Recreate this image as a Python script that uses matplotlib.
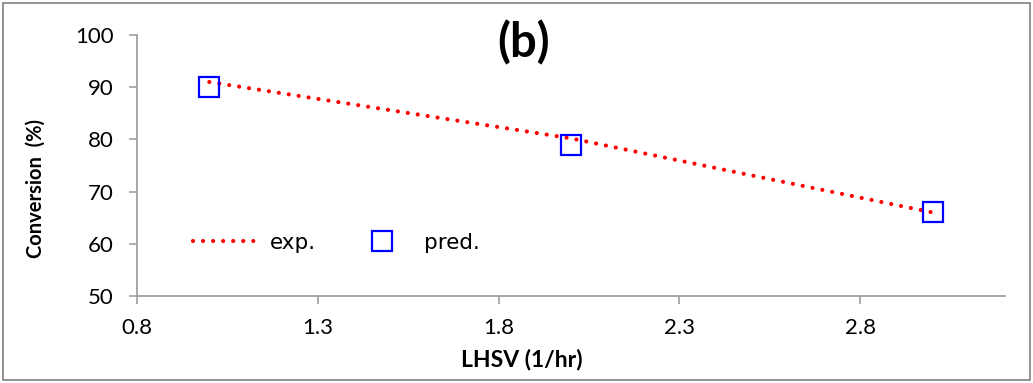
import matplotlib
matplotlib.use("Agg")
import matplotlib.pyplot as plt
from matplotlib.patches import Rectangle

lhsv = [1.0, 2.0, 3.0]
exp_conv = [91.0, 80.2, 66.0]
pred_conv = [90.0, 79.0, 66.0]
xticks = [0.8, 1.3, 1.8, 2.3, 2.8]
yticks = [50, 60, 70, 80, 90, 100]

plt.rcParams['font.family'] = ['Lato', 'DejaVu Sans']

fig = plt.figure(figsize=(10.33, 3.83), dpi=100)
ax = fig.add_axes([137/1033, 1-296/383, (1005-137)/1033, (296-35)/383])

ax.plot(lhsv, exp_conv, color='#ff0000', lw=3.0, linestyle=(0, (0.01, 2.4)),
        dash_capstyle='round', solid_capstyle='round', label='exp.')
ax.plot(lhsv, pred_conv, linestyle='none', marker='s', markersize=13.8,
        markerfacecolor='none', markeredgecolor='#0000ff', markeredgewidth=1.6,
        label='pred.')

ax.set_xlim(0.8, 3.2)
ax.set_ylim(50, 100)
ax.set_xticks(xticks)
ax.set_xticklabels([f"{t:.1f}" for t in xticks])
ax.set_yticks(yticks)
ax.set_yticklabels([str(t) for t in yticks])

for s in ['top', 'right']:
    ax.spines[s].set_visible(False)
for s in ['left', 'bottom']:
    ax.spines[s].set_color('#a0a0a0')
    ax.spines[s].set_linewidth(1.3)
ax.tick_params(axis='both', direction='out', length=6, width=1.2, color='#a0a0a0',
               labelsize=16, labelcolor='black')
ax.tick_params(axis='x', pad=10)
ax.tick_params(axis='y', pad=11)

ax.set_xlabel('LHSV (1/hr)', fontsize=16.5, fontweight='bold')
ax.xaxis.set_label_coords((521.5-137)/868, (296-360)/261)
ax.xaxis.label.set_va('center')
ax.set_ylabel('Conversion  (%)', fontsize=14.5, fontweight='bold')
ax.yaxis.set_label_coords((36-137)/868, (296-188)/261)
ax.yaxis.label.set_va('center')

ax.text((524-137)/868, (296-43)/261, '(b)', transform=ax.transAxes, ha='center', va='center',
        fontsize=34, fontweight='bold')

leg = ax.legend(loc='center left', bbox_to_anchor=((193-137)/868, (296-243)/261),
                ncol=2, frameon=False, prop={'family': 'DejaVu Sans', 'size': 15.5},
                handlelength=3.2, handletextpad=0.37, columnspacing=1.45,
                borderpad=0, borderaxespad=0)

fig.patches.append(Rectangle((3/1033, 3/383), 1027/1033, 377/383, transform=fig.transFigure,
                             fill=False, edgecolor='#808080', linewidth=1.2))

fig.savefig('out.png', dpi=100)
